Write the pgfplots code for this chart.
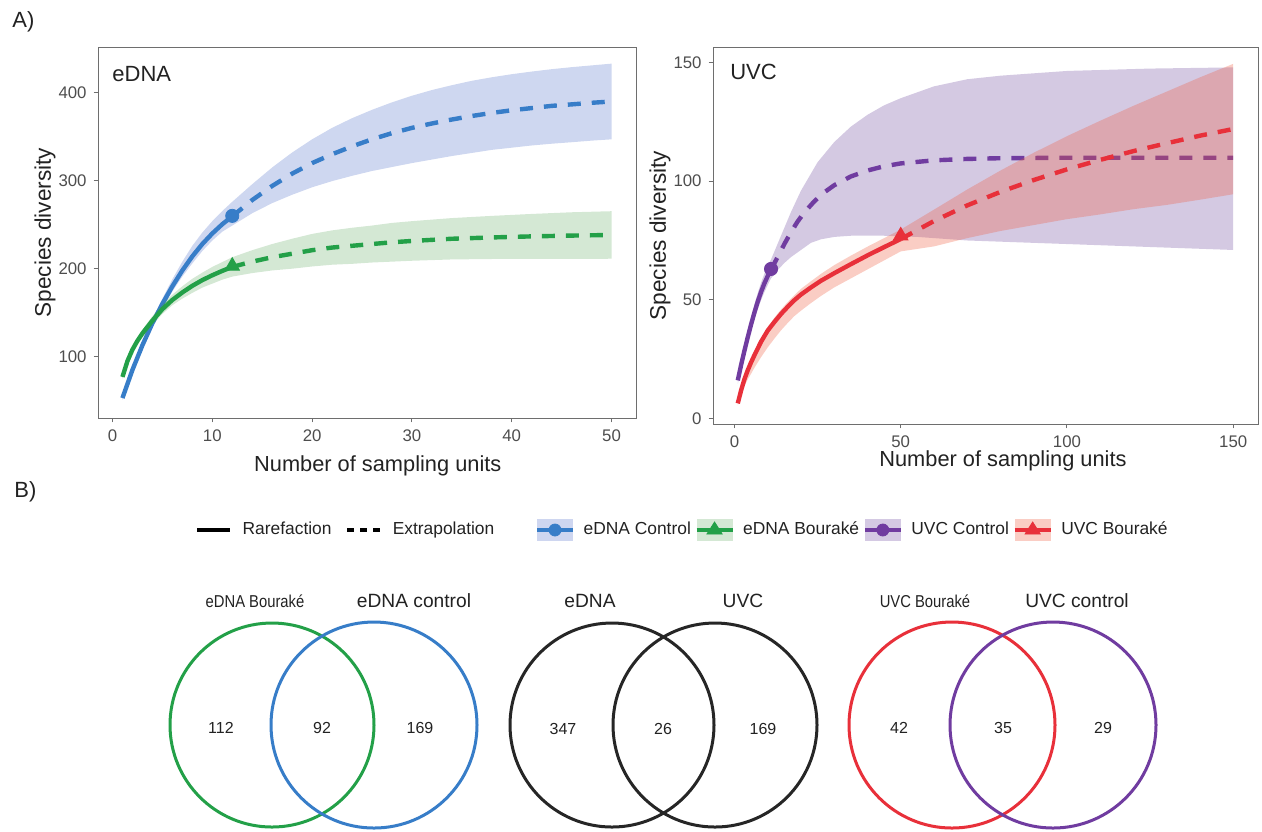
\documentclass[border=0pt]{standalone}
\usepackage{fontspec}
\setmainfont{Liberation Sans}
\newfontfamily\narrowfont[FakeStretch=0.86]{Liberation Sans}
\usepackage{pgfplots}
\pgfplotsset{compat=1.18}
\definecolor{cblue}{RGB}{55,125,200}
\definecolor{cgreen}{RGB}{35,160,72}
\definecolor{cpurple}{RGB}{112,60,160}
\definecolor{cred}{RGB}{232,48,58}
\definecolor{bblue}{RGB}{80,110,200}
\definecolor{bgreen}{RGB}{60,150,60}
\definecolor{bpurple}{RGB}{112,75,160}
\definecolor{bred}{RGB}{240,90,60}
\definecolor{kblue}{RGB}{206,214,240}
\definecolor{kgreen}{RGB}{212,232,212}
\definecolor{kpurple}{RGB}{212,201,227}
\definecolor{kred}{RGB}{250,205,196}
\definecolor{tickgray}{RGB}{77,77,77}
\definecolor{framegray}{RGB}{110,110,110}
\definecolor{txt}{RGB}{34,34,34}
\tikzset{
  rare/.style={line width=2.2pt},
  extr/.style={line width=2.2pt, dash pattern=on 6.5pt off 5.5pt},
}
\pgfplotsset{
  rareplot/.style={
    scale only axis,
    axis line style={framegray, line width=0.5pt},
    tick style={framegray, line width=0.5pt},
    tick align=outside, major tick length=2.2pt,
    xtick pos=bottom, ytick pos=left,
    ticklabel style={font=\fontsize{8.4}{10}\selectfont, text=tickgray},
    /pgf/number format/assume math mode=true,
    xlabel style={font=\fontsize{10.9}{13}\selectfont, text=txt},
    ylabel style={font=\fontsize{11.3}{13}\selectfont, text=txt},
  },
}
\begin{document}
\begin{tikzpicture}
% ---------------- overlay (panel letters, Venn diagrams) ----------------
\begin{axis}[hide axis, scale only axis, at={(0pt,0pt)}, anchor=north west,
  width=631pt, height=415.5pt, xmin=0, xmax=1262, ymin=0, ymax=831,
  y dir=reverse, clip=false]
\node[anchor=base west, inner sep=0pt, font=\fontsize{11}{13}\selectfont, text=txt] at (axis cs:12,27) {A)};
\node[anchor=base west, inner sep=0pt, font=\fontsize{11}{13}\selectfont, text=txt] at (axis cs:14,497) {B)};
% Venn circles
\addplot[only marks, mark=o, mark size=51pt, mark options={cgreen, line width=1.5pt}] coordinates {(272,725)};
\addplot[only marks, mark=o, mark size=51.5pt, mark options={cblue, line width=1.5pt}] coordinates {(374,725)};
\addplot[only marks, mark=o, mark size=51pt, mark options={black!85, line width=1.5pt}] coordinates {(612,725)};
\addplot[only marks, mark=o, mark size=51pt, mark options={black!85, line width=1.5pt}] coordinates {(715,725)};
\addplot[only marks, mark=o, mark size=51.5pt, mark options={cred, line width=1.5pt}] coordinates {(952,725)};
\addplot[only marks, mark=o, mark size=51.5pt, mark options={cpurple, line width=1.5pt}] coordinates {(1053,725)};
% Venn titles
\node[font=\narrowfont\fontsize{8.6}{10}\selectfont, text=txt] at (axis cs:255,601) {eDNA Bouraké};
\node[font=\fontsize{9.6}{11}\selectfont, text=txt] at (axis cs:414,601) {eDNA control};
\node[font=\fontsize{9.6}{11}\selectfont, text=txt] at (axis cs:590,601) {eDNA};
\node[font=\fontsize{9.6}{11}\selectfont, text=txt] at (axis cs:743,601) {UVC};
\node[font=\narrowfont\fontsize{8.6}{10}\selectfont, text=txt] at (axis cs:925,601) {UVC Bouraké};
\node[font=\fontsize{9.6}{11}\selectfont, text=txt] at (axis cs:1077,601) {UVC control};
% Venn counts
\node[font=\fontsize{8}{10}\selectfont, text=txt] at (axis cs:221,728) {112};
\node[font=\fontsize{8}{10}\selectfont, text=txt] at (axis cs:322,728) {92};
\node[font=\fontsize{8}{10}\selectfont, text=txt] at (axis cs:420,728) {169};
\node[font=\fontsize{8}{10}\selectfont, text=txt] at (axis cs:563,729) {347};
\node[font=\fontsize{8}{10}\selectfont, text=txt] at (axis cs:663,729) {26};
\node[font=\fontsize{8}{10}\selectfont, text=txt] at (axis cs:763,729) {169};
\node[font=\fontsize{8}{10}\selectfont, text=txt] at (axis cs:899,728) {42};
\node[font=\fontsize{8}{10}\selectfont, text=txt] at (axis cs:1003,728) {35};
\node[font=\fontsize{8}{10}\selectfont, text=txt] at (axis cs:1103,728) {29};
\end{axis}

% ---------------- eDNA panel ----------------
\begin{axis}[rareplot, at={(49pt,-209pt)}, anchor=south west,
  width=269pt, height=185.5pt,
  xmin=-1.45, xmax=52.45, ymin=30.3, ymax=451.9,
  xtick={0,10,20,30,40,50}, ytick={100,200,300,400},
  xlabel={Number of sampling units}, ylabel={Species diversity},
  xlabel style={at={(axis description cs:0.52,-0.129)}, anchor=center},
  ylabel style={at={(axis description cs:-0.0985,0.5)}, anchor=center}]
% eDNA Control band
\addplot[draw=none, fill=bblue, fill opacity=0.28] coordinates {
 (1,55)(2,88)(3,117)(4,143)(5,166)(6,188)(7,208)(8,226)(9,241)(10,254)(11,265.5)(12,276)
 (14,296)(16,315)(18,332)(20,347)(22,360)(24,371)(26,380.5)(28,389)(30,396.5)(32,403)(34,408.5)
 (36,413.5)(38,417.5)(40,421)(42,424)(44,426.7)(46,429)(48,431)(50,433)
 (50,347)(48,345.5)(46,343.7)(44,342)(42,340)(40,337.5)(38,335)(36,331.5)(34,328)(32,324)
 (30,320)(28,315.5)(26,311)(24,305.5)(22,299.5)(20,292.5)(18,284)(16,274.5)(14,263)(12,249)
 (11,242)(10,232)(9,220)(8,206)(7,191)(6,174)(5,155)(4,133)(3,109)(2,82)(1,51)};
\addplot[cblue, rare] coordinates {
 (1,53)(2,85)(3,113)(4,138)(5,160)(6,180)(7,198)(8,214)(9,228)(10,240)(11,250.5)(12,259.5)};
\addplot[cblue, extr] coordinates {
 (12,259.5)(14,278)(16,294)(18,308)(20,320)(22,330)(24,339)(26,347)(28,354)(30,360)(32,365)
 (34,369.5)(36,373.5)(38,377)(40,380)(42,382.5)(44,385)(46,386.7)(48,388.5)(50,390)};
% eDNA Bourake band
\addplot[draw=none, fill=bgreen, fill opacity=0.22] coordinates {
 (1,79)(1.5,97.5)(2,111)(2.5,121.5)(3,130.5)(4,146)(5,159.5)(6,170.5)(7,180)(8,188.5)(9,195.5)(10,202)(11,207.5)(12,213)
 (14,221)(16,228)(18,234)(20,239.5)(22,243.5)(24,246.5)(26,249)(28,252)(30,254)(34,257.5)
 (38,260)(42,262.2)(46,264.1)(50,265.3)
 (50,211.3)(46,211.1)(42,211.2)(38,211)(34,210.5)(30,209)(28,208)(26,207)(24,205.5)(22,204.5)
 (20,202.5)(18,200)(16,198)(14,195)(12,191)(11,187.5)(10,183)(9,178.5)(8,172.5)(7,166)(6,158.5)
 (5,148.5)(4,136)(3,122.5)(2.5,114.5)(2,105)(1.5,92.5)(1,75)};
\addplot[cgreen, rare] coordinates {
 (1,77)(1.5,95)(2,108)(2.5,118)(3,126.5)(4,141)(5,154)(6,164.5)(7,173)(8,180.5)(9,187)(10,192.5)(11,197.5)(12,202)};
\addplot[cgreen, extr] coordinates {
 (12,202)(14,208)(16,213)(18,217)(20,221)(22,224)(24,226)(26,228)(28,230)(30,231.5)(34,234)
 (38,235.5)(42,236.7)(46,237.6)(50,238.3)};
\addplot[cblue, only marks, mark=*, mark size=3.3pt] coordinates {(12,260)};
\addplot[cgreen, only marks, mark=triangle*, mark size=4.2pt] coordinates {(12,203)};
\node[anchor=base west, inner sep=0pt, font=\fontsize{11}{13}\selectfont, text=txt] at (axis description cs:0.026,0.906) {eDNA};
\end{axis}

% ---------------- UVC panel ----------------
\begin{axis}[rareplot, at={(356.5pt,-212pt)}, anchor=south west,
  width=272.5pt, height=188.5pt,
  xmin=-6.45, xmax=157.45, ymin=-2.4, ymax=156.6,
  xtick={0,50,100,150}, ytick={0,50,100,150},
  xlabel={Number of sampling units}, ylabel={Species diversity},
  xlabel style={at={(axis description cs:0.532,-0.098)}, anchor=center},
  ylabel style={at={(axis description cs:-0.097,0.5)}, anchor=center}]
% UVC Control band
\addplot[draw=none, fill=bpurple, fill opacity=0.3] coordinates {
 (1,17.5)(2,24.5)(3,31)(4,37)(5,42.5)(6,48)(7,52.8)(8,57.2)(9,61)(10,64.3)(11,67)(14,77)(17,87)(20,96)(25,108)(30,116.5)
 (35,123)(40,128)(45,132)(50,135)(60,140)(70,143)(80,144.5)(100,146.5)(125,147.5)(150,148)
 (150,71)(130,72)(110,73)(90,74)(70,75)(55,76.5)(45,77)(35,77)(30,76.5)(26,75.5)(23,74)
 (20,71)(17,68)(15,65.5)(13,62.5)(11,59)(10,56.2)(9,53.2)(8,49.8)(7,46)(6,41.6)(5,36.9)(4,31.6)(3,26.2)(2,20.5)(1,14.5)};
\addplot[cpurple, rare] coordinates {
 (1,16)(2,22.5)(3,28.5)(4,34.2)(5,39.6)(6,44.6)(7,49.2)(8,53.3)(9,56.9)(10,60)(11,62.8)};
\addplot[cpurple, extr] coordinates {
 (11,62.8)(13,68)(15,73.5)(17,78.5)(19,83)(21,86.8)(24,91.5)(27,95.3)(30,98.3)(35,102)
 (40,104.5)(45,106.3)(50,107.5)(60,108.8)(70,109.4)(80,109.7)(100,109.9)(125,109.9)(150,109.9)};
\addplot[cpurple, only marks, mark=*, mark size=3.3pt] coordinates {(11,63)};
% UVC Bourake band
\addplot[draw=none, fill=bred, fill opacity=0.3] coordinates {
 (1,7)(2,13)(3,17.8)(4,21.8)(5,25.2)(6,28.3)(8,33.8)(10,38.5)(12,42.4)(14,45.9)(16,49)(18,51.9)
 (20,54.6)(23,57.8)(26,60.9)(30,64.6)(35,68.6)(40,72.4)(45,76)(50,79.6)
 (60,88)(70,96.5)(80,104.5)(90,112)(100,119)(110,125.5)(120,131.8)(130,137.8)(140,143.8)(150,149.5)
 (150,94.5)(140,92.2)(130,90)(120,88.2)(110,86)(100,84)(90,81.5)(80,79)(70,76)(60,72.5)
 (50,70.4)(45,66.6)(40,62.8)(35,59)(30,55.2)(26,51.6)(23,48.6)(20,45.4)(18,43.1)(16,40.2)
 (14,37.1)(12,33.6)(10,29.9)(8,25.8)(6,21.3)(5,18.8)(4,16.4)(3,13.6)(2,10)(1,5.4)};
\addplot[cred, rare] coordinates {
 (1,6.3)(2,11.8)(3,16.5)(4,20.3)(5,23.6)(6,26.6)(8,32.3)(10,37)(12,40.6)(14,44)(16,47)(18,49.8)
 (20,52.2)(23,55.2)(26,58)(30,61.2)(35,65)(40,68.7)(45,72.2)(50,75.6)};
\addplot[cred, extr] coordinates {
 (50,75.6)(60,83.2)(70,89.8)(80,95.5)(90,100.5)(100,105)(110,109)(120,112.7)(130,116)(140,119.2)(150,122)};
\addplot[cred, only marks, mark=triangle*, mark size=4.2pt] coordinates {(50,77)};
\node[anchor=base west, inner sep=0pt, font=\fontsize{11}{13}\selectfont, text=txt] at (axis description cs:0.031,0.9125) {UVC};
\end{axis}

% ---------------- legend: line types ----------------
\begin{axis}[hide axis, scale only axis, width=1pt, height=1pt,
  at={(97.5pt,-265pt)}, anchor=west, xmin=0, xmax=1, ymin=0, ymax=1,
  legend style={at={(0,0.5)}, anchor=west, draw=none, fill=none, inner sep=0pt,
    font=\fontsize{8.7}{10}\selectfont, text=txt, legend columns=-1,
    /tikz/every even column/.append style={column sep=5pt}}]
\addlegendimage{legend image code/.code={\draw[black, line width=1.6pt] (0pt,0pt) -- (16.5pt,0pt);}}
\addlegendentry{\hspace{3.5pt}Rarefaction}
\addlegendimage{legend image code/.code={\draw[black, line width=1.6pt, dash pattern=on 3.5pt off 3pt] (0pt,0pt) -- (16.5pt,0pt);}}
\addlegendentry{\hspace{3.5pt}Extrapolation}
\end{axis}

% ---------------- legend: groups ----------------
\begin{axis}[hide axis, scale only axis, width=1pt, height=1pt,
  at={(267.5pt,-265pt)}, anchor=west, xmin=0, xmax=1, ymin=0, ymax=1,
  legend style={at={(0,0.5)}, anchor=west, draw=none, fill=none, inner sep=0pt,
    font=\fontsize{8.7}{10}\selectfont, text=txt, legend columns=-1,
    /tikz/every even column/.append style={column sep=0pt}}]
\addlegendimage{legend image code/.code={
  \fill[kblue, draw=none] (0pt,-5.5pt) rectangle (18pt,5.5pt);
  \draw[cblue, line width=1.6pt] (0pt,0pt) -- (18pt,0pt);
  \fill[cblue] (9pt,0pt) circle (3pt);}}
\addlegendentry{\hspace{2.5pt}eDNA Control}
\addlegendimage{legend image code/.code={
  \fill[kgreen, draw=none] (0pt,-5.5pt) rectangle (18pt,5.5pt);
  \draw[cgreen, line width=1.6pt] (0pt,0pt) -- (18pt,0pt);
  \fill[cgreen] (9pt,4pt) -- (5.2pt,-2pt) -- (12.8pt,-2pt) -- cycle;}}
\addlegendentry{\hspace{2.5pt}eDNA Bouraké}
\addlegendimage{legend image code/.code={
  \fill[kpurple, draw=none] (0pt,-5.5pt) rectangle (18pt,5.5pt);
  \draw[cpurple, line width=1.6pt] (0pt,0pt) -- (18pt,0pt);
  \fill[cpurple] (9pt,0pt) circle (3pt);}}
\addlegendentry{\hspace{2.5pt}UVC Control}
\addlegendimage{legend image code/.code={
  \fill[kred, draw=none] (0pt,-5.5pt) rectangle (18pt,5.5pt);
  \draw[cred, line width=1.6pt] (0pt,0pt) -- (18pt,0pt);
  \fill[cred] (9pt,4pt) -- (5.2pt,-2pt) -- (12.8pt,-2pt) -- cycle;}}
\addlegendentry{\hspace{2.5pt}UVC Bouraké}
\end{axis}
\pgfresetboundingbox
\path (0pt,0pt) rectangle (631pt,-415.5pt);
\end{tikzpicture}
\end{document}
